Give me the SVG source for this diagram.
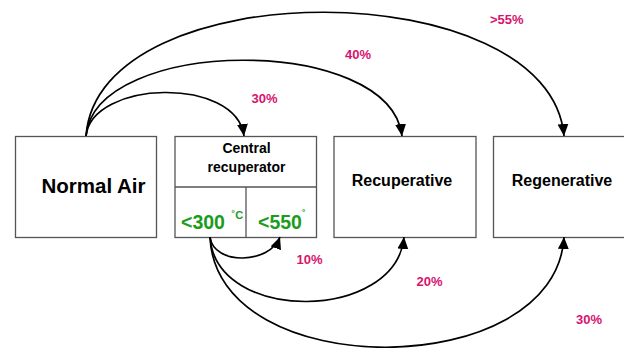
<svg xmlns="http://www.w3.org/2000/svg" width="624" height="348" viewBox="0 0 624 348">
<style>
.box{fill:#fff;stroke:#555;stroke-width:1.3}
.lbl{font-family:"Liberation Sans",Arial,sans-serif;font-weight:bold;fill:#000}
.pct{font-family:"Liberation Sans",Arial,sans-serif;font-weight:bold;font-size:13px;fill:#d6146e}
.grn{font-family:"Liberation Sans",Arial,sans-serif;font-weight:bold;fill:#1c9c1c}
.conn{fill:none;stroke:#000;stroke-width:1.7}
</style>
<defs>
<marker id="ah" markerUnits="userSpaceOnUse" markerWidth="14" markerHeight="12" refX="12" refY="5.5" orient="auto">
<path d="M0,0 L12,5.5 L0,11 Z" fill="#000"/>
</marker>
</defs>
<rect width="624" height="348" fill="#fff"/>
<g id="normal-air">
<rect class="box" x="15.5" y="136.5" width="141" height="101"/>
<text class="lbl" x="41.5" y="193" font-size="20.5">Normal Air</text>
</g>
<g id="central-recuperator">
<rect class="box" x="175" y="136.5" width="141.5" height="101"/>
<line class="box" x1="175" y1="187" x2="316.5" y2="187"/>
<line class="box" x1="246" y1="187" x2="246" y2="237.5"/>
<text class="lbl" x="246.5" y="152.5" font-size="14" text-anchor="middle">Central</text>
<text class="lbl" x="246.5" y="172" font-size="14" text-anchor="middle">recuperator</text>
<text class="grn" x="181" y="229" font-size="19.5">&lt;300</text>
<text class="grn" x="231.5" y="219" font-size="11">˚C</text>
<text class="grn" x="258" y="229" font-size="19.5">&lt;550</text>
<text class="grn" x="302" y="218" font-size="11">˚</text>
</g>
<g id="recuperative">
<rect class="box" x="334" y="136.5" width="142" height="101"/>
<text class="lbl" x="402" y="186" font-size="16" text-anchor="middle">Recuperative</text>
</g>
<g id="regenerative">
<rect class="box" x="493.5" y="136.5" width="142" height="101"/>
<text class="lbl" x="562" y="186" font-size="16" text-anchor="middle">Regenerative</text>
</g>
<g id="connectors">
<path class="conn" marker-end="url(#ah)" d="M86,136 C92,80 236,76 244,136"/>
<path class="conn" marker-end="url(#ah)" d="M86,136 C95,36 390,34 402,136"/>
<path class="conn" marker-end="url(#ah)" d="M86,136 C98,-30 550,-28 564,136"/>
<path class="conn" marker-end="url(#ah)" d="M210,237 C214,266 270,264 280,237"/>
<path class="conn" marker-end="url(#ah)" d="M210,237 C216,324 396,322 404,237"/>
<path class="conn" marker-end="url(#ah)" d="M210,237 C216,385 556,383 564,237"/>
</g>
<g id="labels">
<text class="pct" x="251.5" y="102.5">30%</text>
<text class="pct" x="345" y="59">40%</text>
<text class="pct" x="490" y="24">&gt;55%</text>
<text class="pct" x="296.5" y="264">10%</text>
<text class="pct" x="416.5" y="286">20%</text>
<text class="pct" x="576" y="324">30%</text>
</g>
</svg>
